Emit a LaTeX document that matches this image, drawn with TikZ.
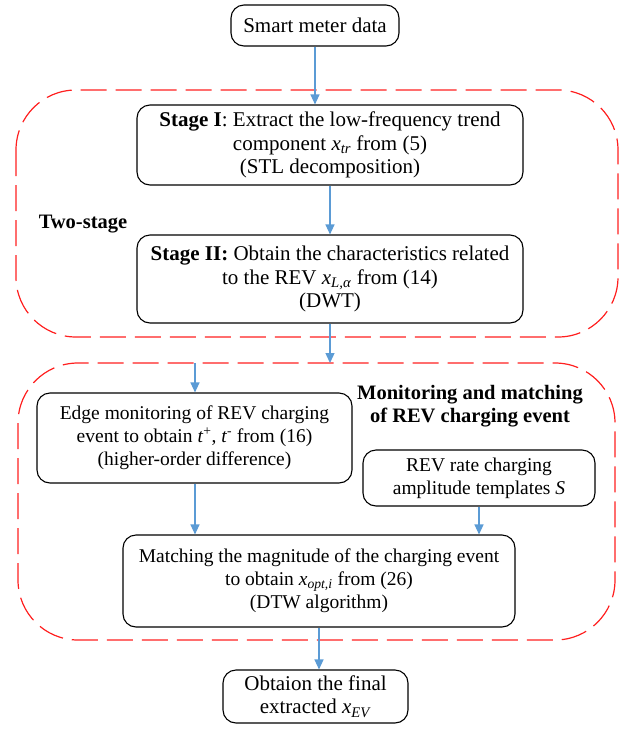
\documentclass[tikz,border=0pt]{standalone}
\usepackage{fontspec}
\setmainfont{Liberation Serif}
\usetikzlibrary{arrows.meta}
\newcommand\mvar[2]{\textit{#1}\textsubscript{\textit{#2}}}
\definecolor{arrowblue}{HTML}{5B9BD5}
\definecolor{dashred}{HTML}{FF2020}
\begin{document}
\begin{tikzpicture}[x=1pt,y=-1pt,
  box/.style={draw=black,line width=1.1pt,rounded corners=13pt,align=center,inner sep=2pt,
    font=\fontsize{21}{23.5}\selectfont},
  small/.style={font=\fontsize{19.5}{23}\selectfont},
  flow/.style={draw=arrowblue,line width=1.3pt,-{Triangle[length=10pt,width=9pt]}},
  region/.style={draw=dashred,line width=1.2pt,dash pattern=on 26pt off 9pt,rounded corners=60pt},
  lbl/.style={font=\fontsize{20.5}{23}\selectfont\bfseries,align=center}]
\useasboundingbox (0,0) rectangle (633,732);
\draw[region] (16,90) rectangle (618,337);
\draw[region] (18,363) rectangle (615,640);
\node[box,minimum width=168pt,minimum height=41pt] (smart) at (315,25.5) {Smart meter data};
\node[box,minimum width=386pt,minimum height=80pt] (s1) at (330,145)
  {\textbf{Stage I}: Extract the low-frequency trend\\component \mvar{x}{tr} from (5)\\(STL decomposition)};
\node[box,minimum width=386pt,minimum height=88pt] (s2) at (330,279)
  {\textbf{Stage II:} Obtain the characteristics related\\to the REV \mvar{x}{L,α} from (14)\\(DWT)};
\node[lbl] (two) at (83,224) {Two-stage};
\node[lbl] (mon) at (470,406) {Monitoring and matching\\of REV charging event};
\node[box,small,minimum width=315pt,minimum height=90pt] (edge) at (194.5,438)
  {Edge monitoring of REV charging\\event to obtain \textit{t}\textsuperscript{+}, \textit{t}\textsuperscript{-} from (16)\\(higher-order difference)};
\node[box,small,minimum width=232pt,minimum height=56pt] (rev) at (479,478)
  {REV rate charging\\amplitude templates \textit{S}};
\node[box,small,minimum width=392pt,minimum height=92pt] (match) at (319,581)
  {Matching the magnitude of the charging event\\to obtain \mvar{x}{opt,i} from (26)\\(DTW algorithm)};
\node[box,minimum width=185pt,minimum height=53pt] (final) at (315.5,696.5)
  {Obtaion the final\\extracted \mvar{x}{EV}};
\coordinate (c2) at (330,363);
\coordinate (c3) at (195,363);
\draw[flow] (smart.south) -- (smart.south |- s1.north);
\draw[flow] (s1.south) -- (s2.north);
\draw[flow] (s2.south) -- (c2);
\draw[flow] (c3) -- (c3 |- edge.north);
\draw[flow] (c3 |- edge.south) -- (c3 |- match.north);
\draw[flow] (rev.south) -- (rev.south |- match.north);
\draw[flow] (match.south) -- (match.south |- final.north);
\end{tikzpicture}
\end{document}
